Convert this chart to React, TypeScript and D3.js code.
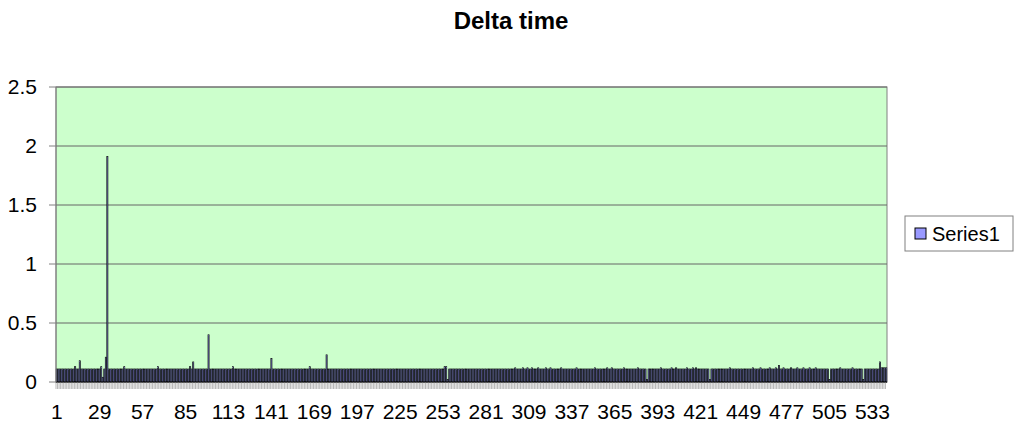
import React from "react"
import * as d3 from "d3"

// Delta time per sample, one row per 28 samples (matches the label step)
const deltaTime: number[] = [
  0.11, 0.11, 0.11, 0.11, 0.11, 0.11, 0.11, 0.11, 0.11, 0.11, 0.11, 0.11, 0.13, 0.11, 0.11, 0.18, 0.11, 0.11, 0.11, 0.11, 0.11, 0.11, 0.11, 0.11, 0.11, 0.11, 0.11, 0.11,
  0.11, 0.13, 0.04, 0.11, 0.21, 1.91, 0.11, 0.11, 0.11, 0.11, 0.11, 0.11, 0.11, 0.11, 0.11, 0.11, 0.13, 0.11, 0.11, 0.11, 0.11, 0.11, 0.11, 0.11, 0.11, 0.11, 0.11, 0.11,
  0.11, 0.11, 0.11, 0.11, 0.11, 0.11, 0.11, 0.11, 0.11, 0.11, 0.13, 0.11, 0.11, 0.11, 0.11, 0.11, 0.11, 0.11, 0.11, 0.11, 0.11, 0.11, 0.11, 0.11, 0.11, 0.11, 0.11, 0.11,
  0.11, 0.11, 0.11, 0.13, 0.11, 0.17, 0.11, 0.11, 0.11, 0.11, 0.11, 0.11, 0.11, 0.11, 0.11, 0.40, 0.11, 0.11, 0.11, 0.11, 0.11, 0.11, 0.11, 0.11, 0.11, 0.11, 0.11, 0.11,
  0.11, 0.11, 0.11, 0.13, 0.11, 0.11, 0.11, 0.11, 0.11, 0.11, 0.11, 0.11, 0.11, 0.11, 0.11, 0.11, 0.11, 0.11, 0.11, 0.11, 0.11, 0.11, 0.11, 0.11, 0.11, 0.11, 0.11, 0.11,
  0.20, 0.11, 0.11, 0.11, 0.11, 0.11, 0.11, 0.11, 0.11, 0.11, 0.11, 0.11, 0.11, 0.11, 0.11, 0.11, 0.11, 0.11, 0.11, 0.11, 0.11, 0.11, 0.11, 0.11, 0.11, 0.13, 0.11, 0.11,
  0.11, 0.11, 0.11, 0.11, 0.11, 0.11, 0.11, 0.11, 0.23, 0.11, 0.11, 0.11, 0.11, 0.11, 0.11, 0.11, 0.11, 0.11, 0.11, 0.11, 0.11, 0.11, 0.11, 0.11, 0.11, 0.11, 0.11, 0.11,
  0.11, 0.11, 0.11, 0.11, 0.11, 0.11, 0.11, 0.11, 0.11, 0.11, 0.11, 0.11, 0.11, 0.11, 0.11, 0.11, 0.11, 0.11, 0.11, 0.11, 0.11, 0.11, 0.11, 0.11, 0.11, 0.11, 0.11, 0.11,
  0.11, 0.11, 0.11, 0.11, 0.11, 0.11, 0.11, 0.11, 0.11, 0.11, 0.11, 0.11, 0.11, 0.11, 0.11, 0.11, 0.11, 0.11, 0.11, 0.11, 0.11, 0.11, 0.11, 0.11, 0.11, 0.11, 0.11, 0.11,
  0.11, 0.13, 0.13, 0.02, 0.11, 0.11, 0.11, 0.11, 0.11, 0.11, 0.11, 0.11, 0.11, 0.11, 0.11, 0.11, 0.11, 0.11, 0.11, 0.11, 0.11, 0.11, 0.11, 0.11, 0.11, 0.11, 0.11, 0.11,
  0.11, 0.11, 0.11, 0.11, 0.11, 0.11, 0.11, 0.11, 0.11, 0.11, 0.11, 0.11, 0.11, 0.11, 0.11, 0.11, 0.11, 0.11, 0.11, 0.12, 0.11, 0.11, 0.11, 0.11, 0.12, 0.11, 0.11, 0.12,
  0.11, 0.11, 0.12, 0.11, 0.11, 0.11, 0.12, 0.11, 0.11, 0.11, 0.11, 0.12, 0.11, 0.11, 0.12, 0.11, 0.11, 0.11, 0.11, 0.11, 0.11, 0.12, 0.11, 0.11, 0.11, 0.11, 0.11, 0.11,
  0.11, 0.11, 0.11, 0.12, 0.11, 0.11, 0.11, 0.11, 0.11, 0.11, 0.11, 0.11, 0.11, 0.11, 0.11, 0.12, 0.11, 0.11, 0.11, 0.11, 0.11, 0.11, 0.11, 0.12, 0.11, 0.11, 0.12, 0.11,
  0.11, 0.11, 0.11, 0.11, 0.11, 0.11, 0.12, 0.11, 0.11, 0.11, 0.11, 0.11, 0.11, 0.11, 0.11, 0.12, 0.11, 0.11, 0.11, 0.11, 0.11, 0.02, 0.11, 0.11, 0.11, 0.11, 0.11, 0.11,
  0.11, 0.11, 0.12, 0.11, 0.11, 0.11, 0.11, 0.11, 0.11, 0.12, 0.11, 0.11, 0.12, 0.11, 0.11, 0.11, 0.11, 0.11, 0.11, 0.12, 0.11, 0.11, 0.11, 0.12, 0.11, 0.12, 0.11, 0.11,
  0.11, 0.11, 0.11, 0.11, 0.11, 0.11, 0.02, 0.11, 0.11, 0.11, 0.11, 0.11, 0.11, 0.11, 0.11, 0.11, 0.11, 0.11, 0.11, 0.12, 0.11, 0.11, 0.11, 0.11, 0.11, 0.11, 0.11, 0.11,
  0.11, 0.11, 0.11, 0.11, 0.11, 0.11, 0.12, 0.11, 0.11, 0.11, 0.11, 0.12, 0.11, 0.11, 0.11, 0.11, 0.11, 0.12, 0.11, 0.11, 0.11, 0.12, 0.11, 0.14, 0.11, 0.11, 0.12, 0.11,
  0.11, 0.11, 0.11, 0.12, 0.11, 0.11, 0.11, 0.12, 0.11, 0.11, 0.11, 0.12, 0.11, 0.11, 0.11, 0.12, 0.11, 0.11, 0.11, 0.12, 0.11, 0.11, 0.11, 0.11, 0.11, 0.11, 0.11, 0.11,
  0.02, 0.11, 0.11, 0.11, 0.11, 0.11, 0.11, 0.12, 0.11, 0.11, 0.11, 0.11, 0.11, 0.11, 0.11, 0.12, 0.11, 0.11, 0.11, 0.11, 0.11, 0.11, 0.02, 0.11, 0.11, 0.11, 0.11, 0.11,
  0.11, 0.11, 0.11, 0.11, 0.11, 0.17, 0.12, 0.12, 0.12, 0.12,
]

const categories = deltaTime.map((_, i) => String(i + 1))
const xTickLabels = ["1", "29", "57", "85", "113", "141", "169", "197", "225", "253", "281", "309", "337", "365", "393", "421", "449", "477", "505", "533"]
const yTicks = [0, 0.5, 1, 1.5, 2, 2.5]
const seriesName = "Series1"
const title = "Delta time"

const W = 1023
const H = 431
const margin = { top: 87, right: 136, bottom: 49, left: 56 }
const font = "'Liberation Sans', Arial, sans-serif"

export default function App() {
  const innerW = W - margin.left - margin.right
  const innerH = H - margin.top - margin.bottom

  const x = d3.scaleBand<string>().domain(categories).range([0, innerW]).paddingInner(0.3).paddingOuter(0.15)
  const xb = d3.scaleBand<string>().domain(categories).range([0, innerW])
  const y = d3.scaleLinear().domain([0, 2.5]).range([innerH, 0])

  return (
    <svg width={W} height={H} style={{ position: "absolute", left: 0, top: 0, background: "#fff" }} fontFamily={font}>
      <text x={511} y={29} textAnchor="middle" fontSize={24} fontWeight="bold">{title}</text>
      <g transform={`translate(${margin.left},${margin.top})`}>
        <rect x={0} y={0} width={innerW} height={innerH} fill="#CCFFCC" stroke="#808080" strokeWidth={1} />
        {yTicks.map(t => (
          <g key={t}>
            {t > 0 && <line x1={0} x2={innerW} y1={y(t)} y2={y(t)} stroke="#666" strokeWidth={1} />}
            <line x1={-7} x2={0} y1={y(t)} y2={y(t)} stroke="#808080" />
            <text x={-19} y={y(t)} dy="0.35em" textAnchor="end" fontSize={21}>{t}</text>
          </g>
        ))}
        {deltaTime.map((v, i) => (
          <rect key={i} x={x(categories[i])} y={y(v)} width={x.bandwidth()} height={innerH - y(v)}
            fill="#9999FF" stroke="#000" strokeWidth={0.7} />
        ))}
        <line x1={0} x2={innerW} y1={innerH} y2={innerH} stroke="#000" />
        <line x1={0} x2={0} y1={0} y2={innerH} stroke="#808080" />
        {categories.map(c => (
          <line key={c} x1={xb(c) ?? 0} x2={xb(c) ?? 0} y1={innerH} y2={innerH + 7} stroke="#888" strokeWidth={0.6} />
        ))}
        {xTickLabels.map(l => (
          <text key={l} x={(xb(l) ?? 0) + xb.bandwidth() / 2} y={innerH + 22} dy="0.71em" textAnchor="middle" fontSize={21}>{l}</text>
        ))}
      </g>
      <g transform="translate(905,216)">
        <rect x={0} y={0} width={108} height={35} fill="#fff" stroke="#808080" />
        <rect x={10} y={12} width={11} height={11} fill="#9999FF" stroke="#000" strokeWidth={1} />
        <text x={27} y={18} dy="0.35em" fontSize={20}>{seriesName}</text>
      </g>
    </svg>
  )
}
